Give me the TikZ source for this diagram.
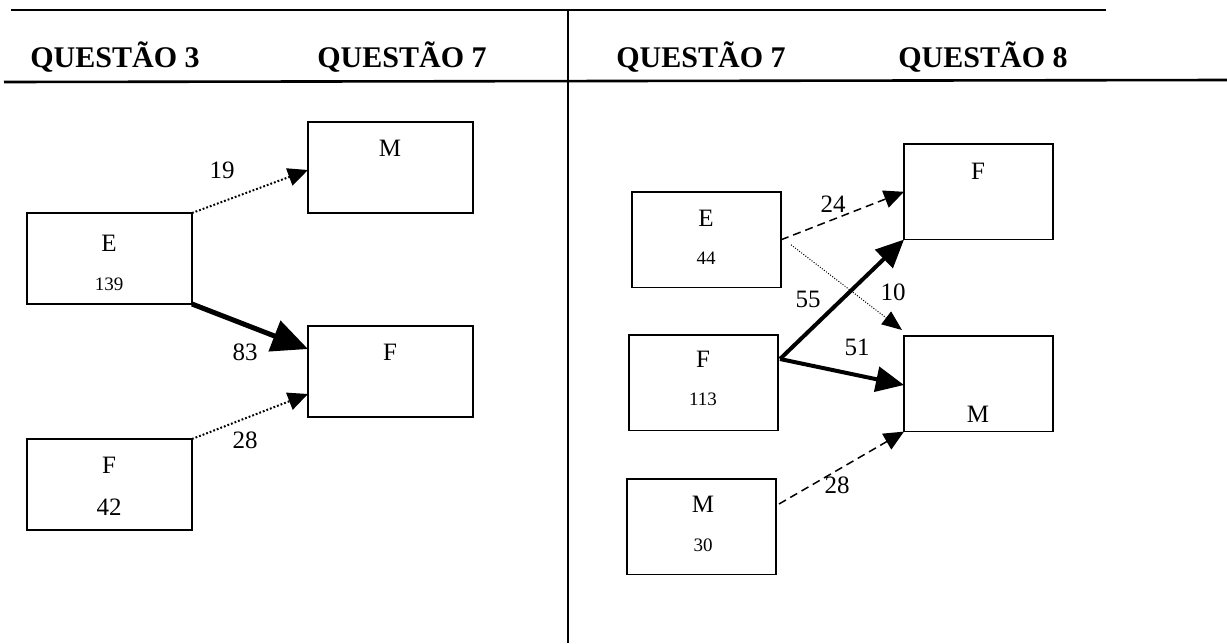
\documentclass[tikz,border=0pt]{standalone}
\usepackage{fontspec}
\setmainfont{Liberation Serif}
\usetikzlibrary{arrows.meta,calc}
\begin{document}
\begin{tikzpicture}[x=0.5pt,y=-0.5pt,
  boxL/.style={draw,line width=0.75pt,minimum width=82.5pt,minimum height=45.5pt,inner sep=0pt,outer sep=0pt,anchor=north west},
  boxR/.style={draw,line width=0.75pt,minimum width=74.5pt,minimum height=47.8pt,inner sep=0pt,outer sep=0pt,anchor=north west},
  txt/.style={inner sep=0pt,font=\fontsize{12.5}{14}\selectfont},
  small/.style={inner sep=0pt,font=\fontsize{9.5}{11}\selectfont},
  head/.style={inner sep=0pt,anchor=base west,font=\fontsize{15}{18}\selectfont\bfseries},
  rule/.style={line width=1.3pt},
  dotarrow/.style={line width=1pt,dash pattern=on 0.9pt off 1pt,-{Triangle[length=10pt,width=9pt]}},
  finedot/.style={line width=0.5pt,dash pattern=on 0.5pt off 0.8pt,-{Triangle[length=10pt,width=8pt]}},
  dasharrow/.style={line width=0.75pt,dash pattern=on 4pt off 2.5pt,-{Triangle[length=10pt,width=9pt]}},
  bigarrow/.style={line width=2.5pt,-{Triangle[length=18pt,width=16pt]}},
  medarrow/.style={line width=2pt,-{Triangle[length=14pt,width=12.5pt]}}
]
\useasboundingbox (0,0) rectangle (1227,643);

% frame lines
\coordinate (t1) at (11,10);
\coordinate (t2) at (1106,10);
\coordinate (h1) at (4,82);
\coordinate (h2) at (1227,80);
\coordinate (v1) at (568,10);
\coordinate (v2) at (568,643);
\draw[rule] (t1) -- (t2);
\draw[rule] (h1) -- (h2);
\draw[rule] (v1) -- (v2);

% headers
\node[head] (q3) at (30,67) {QUESTÃO 3};
\node[head] (q7a) at (317,67) {QUESTÃO 7};
\node[head] (q7b) at (616,67) {QUESTÃO 7};
\node[head] (q8) at (898,67) {QUESTÃO 8};

% ---------- left panel ----------
\node[boxL] (M1) at (308,122) {};
\node[boxL] (E1) at (27,213) {};
\node[boxL] (F1) at (308,326) {};
\node[boxL] (F2) at (27,439) {};

\node[txt] (M1t) at (390,148) {M};
\node[txt] (E1t) at (109,243) {E};
\node[small] (E1n) at (109,284) {139};
\node[txt] (F1t) at (390,352) {F};
\node[txt] (F2t) at (109,465) {F};
\node[txt] (F2n) at (109,507) {42};

\draw[dotarrow] (E1.north east) -- ($(M1.north west)+(0,48)$);
\draw[bigarrow] (E1.south east) -- ($(F1.north west)+(0,23)$);
\draw[dotarrow] (F2.north east) -- ($(F1.north west)+(0,68)$);

\node[txt] (l19) at (222,170) {19};
\node[txt] (l83) at (245,352) {83};
\node[txt] (l28a) at (245,440) {28};

% ---------- right panel ----------
\node[boxR] (F3) at (904,144) {};
\node[boxR] (E2) at (632,192) {};
\node[boxR] (F4) at (629,335) {};
\node[boxR] (M3) at (904,336) {};
\node[boxR] (M4) at (627,479) {};

\node[txt] (F3t) at (978,171) {F};
\node[txt] (E2t) at (706,218) {E};
\node[small] (E2n) at (706,258) {44};
\node[txt] (F4t) at (703,359) {F};
\node[small] (F4n) at (703,399) {113};
\node[txt] (M3t) at (978,414) {M};
\node[txt] (M4t) at (703,504) {M};
\node[small] (M4n) at (703,545) {30};

\draw[dasharrow] (E2.east) -- (F3.west);
\draw[finedot] ($(E2.east)+(10,5)$) -- ($(M3.north west)+(-2,-6)$);
\draw[medarrow] ($(F4.north east)+(2,24)$) -- (F3.south west);
\draw[medarrow] ($(F4.north east)+(2,24)$) -- ($(M3.north west)+(0,49)$);
\draw[dasharrow] ($(M4.north east)+(3,25)$) -- (M3.south west);

\node[txt] (l24) at (833,204) {24};
\node[txt] (l10) at (893,292) {10};
\node[txt] (l55) at (808,299) {55};
\node[txt] (l51) at (857,347) {51};
\node[txt] (l28b) at (837,485) {28};
\end{tikzpicture}
\end{document}
